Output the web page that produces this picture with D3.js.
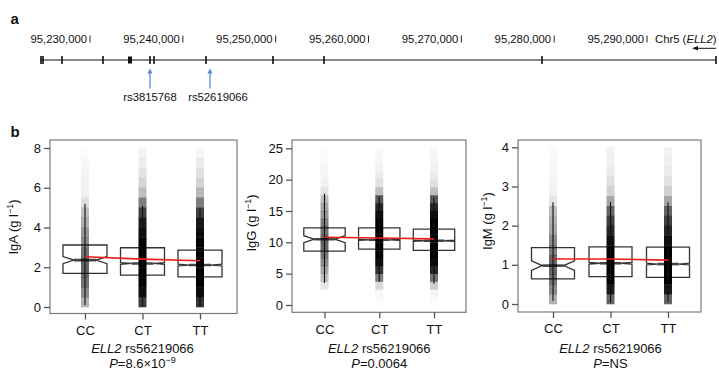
<!DOCTYPE html>
<html>
<head>
<meta charset="utf-8">
<script src="https://cdn.jsdelivr.net/npm/d3@7"></script>
<style>
body { margin: 0; background: #fff; }
text { font-family: "Liberation Sans", Arial, Helvetica, sans-serif; fill: #111; }
</style>
</head>
<body>
<svg id="chart" width="719" height="370"></svg>
<script>
// ---------- panel a data: gene track ----------
var geneStart = 95224612, geneEnd = 95297435;
var coordTicks = [95230000, 95240000, 95250000, 95260000, 95270000, 95280000, 95290000];
var exonPos = [95224722, 95224937, 95226984, 95231400, 95236463, 95236894,
               95242496, 95249713, 95255207, 95278690, 95297435];
var blockExon = [95234094, 95234525];
var snpNames = ["rs3815768", "rs52619066"];
var snpPos = [95236463, 95242926];

// ---------- panel b data: boxplots ----------
var genotypes = ["CC", "CT", "TT"];
var traitNames = ["IgA", "IgG", "IgM"];
var traitMax = [8, 25, 4];
var traitTicks = [[0, 2, 4, 6, 8], [0, 5, 10, 15, 20, 25], [0, 1, 2, 3, 4]];
var pValues = ["8.6×10", "0.0064", "NS"];
var pExponents = ["−9", "", ""];

var igaQ1 = [1.69, 1.60, 1.52], igaMed = [2.36, 2.19, 2.11], igaQ3 = [3.12, 2.98, 2.86];
var igaMean = [2.53, 2.41, 2.33], igaLo = [0.1, 0.0, 0.0], igaHi = [5.2, 5.1, 4.9];
var igaNotch = [0.18, 0.04, 0.04];

var iggQ1 = [8.6, 8.9, 8.7], iggMed = [10.5, 10.4, 10.25], iggQ3 = [12.3, 12.3, 12.1];
var iggMean = [10.8, 10.7, 10.55], iggLo = [3.5, 3.7, 3.4], iggHi = [17.8, 17.3, 17.1];
var iggNotch = [0.55, 0.1, 0.08];

var igmQ1 = [0.64, 0.70, 0.68], igmMed = [0.98, 1.04, 1.02], igmQ3 = [1.44, 1.46, 1.45];
var igmMean = [1.15, 1.15, 1.12], igmLo = [0.08, 0.03, 0.05], igmHi = [2.6, 2.6, 2.6];
var igmNotch = [0.12, 0.02, 0.02];

// density of the jittered points per bin (0 = empty, 1 = solid black)
var binStep = [0.5, 1.25, 0.25];
var igaDens = [
  [0.3, 0.45, 0.55, 0.6, 0.6, 0.55, 0.45, 0.4, 0.3, 0.25, 0.12, 0.06, 0.05, 0.04, 0.03, 0.01],
  [0.75, 0.95, 1, 1, 1, 1, 1, 0.95, 0.9, 0.75, 0.5, 0.25, 0.16, 0.11, 0.07, 0.04],
  [0.8, 0.95, 1, 1, 1, 1, 1, 0.95, 0.9, 0.75, 0.5, 0.27, 0.17, 0.12, 0.08, 0.04]];
var iggDens = [
  [0, 0, 0.1, 0.25, 0.35, 0.45, 0.55, 0.6, 0.6, 0.55, 0.5, 0.4, 0.35, 0.25, 0.1, 0.05, 0.04, 0.03, 0.02, 0.02],
  [0.01, 0.03, 0.15, 0.5, 0.8, 0.95, 1, 1, 1, 1, 1, 0.95, 0.85, 0.65, 0.25, 0.12, 0.08, 0.05, 0.04, 0.03],
  [0.01, 0.04, 0.2, 0.55, 0.85, 0.95, 1, 1, 1, 1, 1, 0.95, 0.85, 0.65, 0.25, 0.12, 0.08, 0.05, 0.04, 0.03]];
var igmDens = [
  [0.3, 0.45, 0.55, 0.6, 0.6, 0.5, 0.45, 0.35, 0.3, 0.25, 0.1, 0.05, 0.04, 0.03, 0.03, 0.02],
  [0.6, 0.9, 1, 1, 1, 1, 0.95, 0.85, 0.75, 0.6, 0.35, 0.18, 0.12, 0.08, 0.06, 0.05],
  [0.6, 0.9, 1, 1, 1, 1, 0.95, 0.85, 0.75, 0.6, 0.35, 0.18, 0.12, 0.08, 0.06, 0.05]];

var stats = [
  {q1: igaQ1, med: igaMed, q3: igaQ3, mean: igaMean, lo: igaLo, hi: igaHi, notch: igaNotch, dens: igaDens},
  {q1: iggQ1, med: iggMed, q3: iggQ3, mean: iggMean, lo: iggLo, hi: iggHi, notch: iggNotch, dens: iggDens},
  {q1: igmQ1, med: igmMed, q3: igmQ3, mean: igmMean, lo: igmLo, hi: igmHi, notch: igmNotch, dens: igmDens}];

// ---------- layout ----------
var panelLeft = [50, 292, 518], panelRight = [237, 466, 701];
var panelTop = 140, panelBottom = [313.5, 312.3, 312];
var yPx0 = [307, 305, 304], yPxMax = [148, 148.3, 147.3];
var catRange = [[85, 200], [324.5, 434], [553, 668]];
var boxHalf = [22, 20.7, 21.5];
var ylabX = [18, 256, 491.5], ylabY = [227, 223, 221];
var cloudHalf = 4;
var fontSize = 13;

var svg = d3.select("#chart");

// ---------- panel a ----------
var gx = d3.scaleLinear().domain([95230000, 95290000]).range([90, 647]);
var geneY = 60;

svg.append("text").attr("x", 10.5).attr("y", 24).attr("font-size", 15)
    .attr("font-weight", "bold").text("a");

var trackG = svg.append("g");
coordTicks.forEach(function(t) {
  trackG.append("text").attr("x", gx(t) - 3).attr("y", 42.7)
      .attr("text-anchor", "end").attr("font-size", 11.3)
      .text(d3.format(",")(t));
  trackG.append("line").attr("x1", gx(t)).attr("x2", gx(t))
      .attr("y1", 35.5).attr("y2", 42.5).attr("stroke", "#222").attr("stroke-width", 1);
});

var chrText = trackG.append("text").attr("x", 655).attr("y", 42.7).attr("font-size", 11.3);
chrText.append("tspan").text("Chr5 (");
chrText.append("tspan").attr("font-style", "italic").text("ELL2");
chrText.append("tspan").text(")");

// strand arrow
trackG.append("line").attr("x1", gx(geneEnd)).attr("x2", gx(geneEnd) - 19)
    .attr("y1", 48.3).attr("y2", 48.3).attr("stroke", "#111").attr("stroke-width", 1);
trackG.append("path")
    .attr("d", "M" + (gx(geneEnd) - 24) + ",48.3 l6,-2.2 l0,4.4 z").attr("fill", "#111");

trackG.append("line").attr("x1", gx(geneStart)).attr("x2", gx(geneEnd))
    .attr("y1", geneY).attr("y2", geneY).attr("stroke", "#111").attr("stroke-width", 1.1);
trackG.selectAll(".exon").data(exonPos).enter().append("line")
    .attr("x1", function(d) { return gx(d); }).attr("x2", function(d) { return gx(d); })
    .attr("y1", geneY - 4).attr("y2", geneY + 4)
    .attr("stroke", "#111").attr("stroke-width", 1.6);
trackG.append("rect").attr("x", gx(blockExon[0])).attr("y", geneY - 3.5)
    .attr("width", gx(blockExon[1]) - gx(blockExon[0])).attr("height", 7).attr("fill", "#111");

var snpLabelDx = [0, 8];
snpPos.forEach(function(p, i) {
  var x = gx(p);
  trackG.append("line").attr("x1", x).attr("x2", x).attr("y1", 88.5).attr("y2", 72)
      .attr("stroke", "#5b8bd0").attr("stroke-width", 1.3);
  trackG.append("path").attr("d", "M" + x + ",68.5 l-2.6,5 l5.2,0 z").attr("fill", "#5b8bd0");
  trackG.append("text").attr("x", x + snpLabelDx[i]).attr("y", 100.5)
      .attr("text-anchor", "middle").attr("font-size", 11.3).text(snpNames[i]);
});

// ---------- panel b ----------
svg.append("text").attr("x", 10.5).attr("y", 136.5).attr("font-size", 15)
    .attr("font-weight", "bold").text("b");

traitNames.forEach(function(trait, k) {
  var s = stats[k];
  var g = svg.append("g");
  var x = d3.scalePoint().domain(genotypes).range(catRange[k]);
  var y = d3.scaleLinear().domain([0, traitMax[k]]).range([yPx0[k], yPxMax[k]]);
  var hw = boxHalf[k];

  var clipId = "clip" + k;
  svg.append("clipPath").attr("id", clipId).append("rect")
      .attr("x", panelLeft[k]).attr("y", panelTop)
      .attr("width", panelRight[k] - panelLeft[k]).attr("height", panelBottom[k] - panelTop);

  var inner = g.append("g").attr("clip-path", "url(#" + clipId + ")");

  // notched boxes
  genotypes.forEach(function(gt, i) {
    var cx = x(gt);
    var q1 = y(s.q1[i]), q3 = y(s.q3[i]), m = y(s.med[i]);
    var nUp = y(s.med[i] + s.notch[i]), nDn = y(s.med[i] - s.notch[i]);
    var pts = [[cx - hw, q3], [cx + hw, q3], [cx + hw, nUp], [cx + hw / 2, m], [cx + hw, nDn],
               [cx + hw, q1], [cx - hw, q1], [cx - hw, nDn], [cx - hw / 2, m], [cx - hw, nUp]];
    inner.append("path").attr("d", "M" + pts.join("L") + "Z")
        .attr("fill", "none").attr("stroke", "#333").attr("stroke-width", 1.3);
    inner.append("line").attr("x1", cx - hw / 2).attr("x2", cx + hw / 2)
        .attr("y1", m).attr("y2", m).attr("stroke", "#444").attr("stroke-width", 2.6);
  });

  // point clouds as density bands
  genotypes.forEach(function(gt, i) {
    var cx = x(gt);
    inner.selectAll(".band" + i).data(s.dens[i]).enter().append("rect")
        .attr("x", cx - cloudHalf).attr("width", cloudHalf * 2)
        .attr("y", function(d, j) { return y((j + 1) * binStep[k]); })
        .attr("height", function(d, j) { return y(j * binStep[k]) - y((j + 1) * binStep[k]) + 0.3; })
        .attr("fill", "#000").attr("fill-opacity", function(d) { return d; });
    inner.append("line").attr("x1", cx).attr("x2", cx)
        .attr("y1", y(s.lo[i])).attr("y2", y(s.hi[i]))
        .attr("stroke", "#111").attr("stroke-width", 1.1);
  });

  // mean line
  var line = d3.line().x(function(d, i) { return x(genotypes[i]); }).y(function(d) { return y(d); });
  inner.append("path").datum(s.mean).attr("d", line)
      .attr("fill", "none").attr("stroke", "#ee1c1c").attr("stroke-width", 1.6);

  // frame
  g.append("rect").attr("x", panelLeft[k]).attr("y", panelTop)
      .attr("width", panelRight[k] - panelLeft[k]).attr("height", panelBottom[k] - panelTop)
      .attr("fill", "none").attr("stroke", "#7a7a7a").attr("stroke-width", 1.2);

  // axes
  var yAxis = d3.axisLeft(y).tickValues(traitTicks[k]).tickFormat(d3.format("d"))
      .tickSize(6).tickPadding(3);
  var ya = g.append("g").attr("transform", "translate(" + panelLeft[k] + ",0)").call(yAxis);
  var xAxis = d3.axisBottom(x).tickSize(6).tickPadding(6);
  var xa = g.append("g").attr("transform", "translate(0," + panelBottom[k] + ")").call(xAxis);
  [ya, xa].forEach(function(a) {
    a.attr("font-size", fontSize).attr("font-family", "Liberation Sans, Arial, sans-serif");
    a.select(".domain").remove();
    a.selectAll("line").attr("stroke", "#555").attr("stroke-width", 1.3);
    a.selectAll("text").attr("fill", "#111");
  });

  // y label
  var yl = g.append("text").attr("transform", "translate(" + ylabX[k] + "," + ylabY[k] + ") rotate(-90)")
      .attr("text-anchor", "middle").attr("font-size", fontSize);
  yl.append("tspan").text(trait + " (g l");
  yl.append("tspan").attr("font-size", 9).attr("dy", -5).text("−1");
  yl.append("tspan").attr("dy", 5).text(")");

  // x label
  var cx = x("CT");
  var xl = g.append("text").attr("x", cx).attr("y", 352.5).attr("text-anchor", "middle")
      .attr("font-size", fontSize);
  xl.append("tspan").attr("font-style", "italic").text("ELL2");
  xl.append("tspan").text(" rs56219066");
  var pl = g.append("text").attr("x", cx).attr("y", 368).attr("text-anchor", "middle")
      .attr("font-size", fontSize);
  pl.append("tspan").attr("font-style", "italic").text("P");
  pl.append("tspan").text("=" + pValues[k]);
  if (pExponents[k]) {
    pl.append("tspan").attr("font-size", 9).attr("dy", -5).text(pExponents[k]);
  }
});
</script>
</body>
</html>
